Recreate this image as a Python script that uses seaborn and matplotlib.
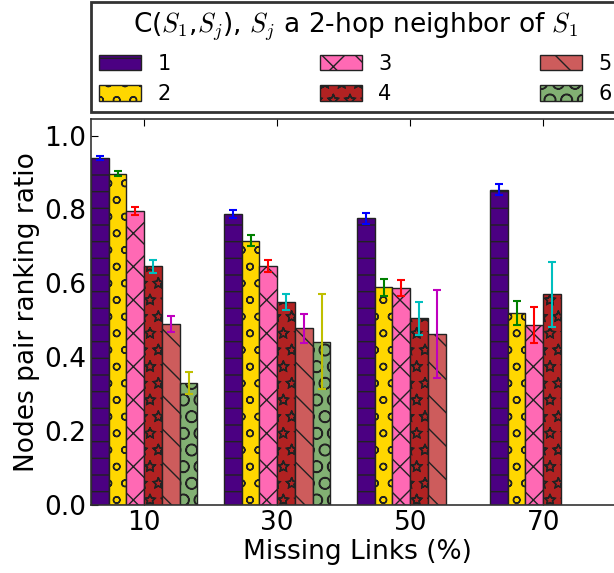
import matplotlib
matplotlib.use('Agg')
import matplotlib.pyplot as plt
import matplotlib.hatch
import pandas as pd
import seaborn as sns
import numpy as np

#-------------------------------
missing = ['10', '30', '50', '70']
series = ['1', '2', '3', '4', '5', '6']

vals_1 = [0.940, 0.788, 0.776, 0.854]
vals_2 = [0.897, 0.716, 0.589, 0.520]
vals_3 = [0.796, 0.648, 0.587, 0.488]
vals_4 = [0.646, 0.550, 0.505, 0.571]
vals_5 = [0.490, 0.478, 0.462, np.nan]
vals_6 = [0.330, 0.442, np.nan, np.nan]

err_1 = [0.005, 0.011, 0.015, 0.015]
err_2 = [0.007, 0.014, 0.022, 0.033]
err_3 = [0.012, 0.016, 0.022, 0.049]
err_4 = [0.018, 0.021, 0.045, 0.088]
err_5 = [0.022, 0.039, 0.119, np.nan]
err_6 = [0.030, 0.129, np.nan, np.nan]

kolory = ['#4B0082', '#FFD700', '#FF69B4', '#B22222', '#CD5C5C', '#82B073']
wzory = ['-', 'o', 'x', '*', '\\', 'O']
kolory_err = ['b', 'g', 'r', 'c', 'm', 'y']
#-------------------------------

# gwiazdki tylko z obrysem, jak w oryginale
matplotlib.hatch.Stars.filled = False

wartosci = [vals_1, vals_2, vals_3, vals_4, vals_5, vals_6]
bledy = [err_1, err_2, err_3, err_4, err_5, err_6]

rows = []
for s, v in zip(series, wartosci):
    for m, y in zip(missing, v):
        rows.append({'missing': m, 'series': s, 'value': y})
df = pd.DataFrame(rows)

sns.set_style('white')
plt.rcParams['font.family'] = ['DejaVu Sans']
plt.rcParams['mathtext.fontset'] = 'cm'
plt.rcParams['text.color'] = 'black'
plt.rcParams['axes.labelcolor'] = 'black'
plt.rcParams['xtick.color'] = 'black'
plt.rcParams['ytick.color'] = 'black'

fig = plt.figure(figsize=(6.14, 5.73), dpi=100)
ax = fig.add_axes([91/614, 68/573, 532/614, 386/573])

sns.barplot(data=df, x='missing', y='value', hue='series', order=missing,
            hue_order=series, palette=kolory, errorbar=None, width=0.8,
            edgecolor='black', linewidth=1, saturation=1, ax=ax, legend=False)

slupki = list(ax.containers)
for i, cont in enumerate(slupki):
    xs = []
    ys = []
    es = []
    for j, p in enumerate(cont.patches):
        p.set_hatch(wzory[i])
        p.set_edgecolor('#222222')
        if not np.isnan(wartosci[i][j]):
            xs.append(p.get_x() + p.get_width() / 2)
            ys.append(wartosci[i][j])
            es.append(bledy[i][j])
    ax.errorbar(xs, ys, yerr=es, fmt='none', ecolor=kolory_err[i],
                elinewidth=1.5, capsize=3, capthick=1.5, zorder=5)

ax.set_xlim(-0.4, 3.6)
ax.set_ylim(0, 1.045)
ax.set_yticks([0.0, 0.2, 0.4, 0.6, 0.8, 1.0])
ax.set_xlabel('Missing Links (%)', fontsize=19, labelpad=2)
ax.set_ylabel('Nodes pair ranking ratio', fontsize=19, labelpad=3)
ax.tick_params(axis='both', labelsize=19, direction='in', length=5,
               top=True, right=True, bottom=True, left=True)
for sp in ax.spines.values():
    sp.set_color('#333333')
    sp.set_linewidth(1.2)

leg = fig.legend(handles=slupki, labels=series, ncol=3,
                 loc='upper left', bbox_to_anchor=(91/614, 1 - 2/573),
                 title='C($S_1$,$S_j$), $S_j$ a 2-hop neighbor of $S_1$',
                 fontsize=15, title_fontsize=19, fancybox=False,
                 columnspacing=7.15, handlelength=2.0, handleheight=0.75,
                 labelspacing=0.5, borderaxespad=0, frameon=True)
leg.get_frame().set_edgecolor('black')
leg.get_frame().set_linewidth(2)

fig.savefig('out.png', dpi=100)
